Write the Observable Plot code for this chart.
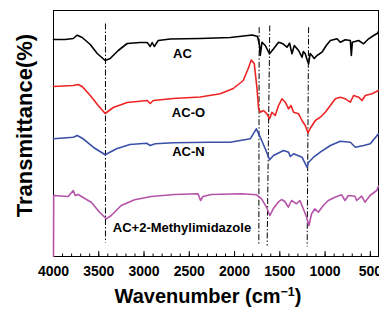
<!DOCTYPE html>
<html>
<head>
<meta charset="utf-8">
<script src="https://cdn.jsdelivr.net/npm/d3@7"></script>
<script src="https://cdn.jsdelivr.net/npm/@observablehq/plot@0.6"></script>
<style>
  html, body { margin: 0; padding: 0; background: #fff; }
  body { width: 379px; height: 309px; overflow: hidden; position: relative; font-family: "Liberation Sans", Arial, sans-serif; color: #000; }
  #xtitle { position: absolute; top: 284px; left: 208px; transform: translateX(-50%); font: bold 20px "Liberation Sans", Arial, sans-serif; white-space: nowrap; line-height: 24px; }
  #xtitle sup { font-size: 0.62em; vertical-align: 0.55em; line-height: 0; }
</style>
</head>
<body>
<div id="chart"></div>
<div id="xtitle">Wavenumber (cm<sup>−1</sup>)</div>
<script>
// ---- data (wavenumber in cm^-1, transmittance in arbitrary offset units) ----
const acWn = [4000,3871,3782,3738,3683,3594,3517,3429,3374,3285,3186,3043,2965,2932,2910,2887,2843,2710,2379,2047,1804,1746,1724,1716,1697,1661,1613,1569,1514,1465,1421,1392,1366,1340,1293,1255,1240,1219,1200,1182,1165,1145,1120,1089,1034,987,942,868,832,777,721,710,699,630,574,519,464,420,410];
const acT  = [217,217,218,221.3,219,212,203,196,198,206,213,214,214,210,214,210,216,217.5,218,219,221.5,220,211,201,214.3,211,202.7,207.7,214.3,212.7,209.3,213.3,202.7,211,206,199.3,205,202.7,197,192.7,203,201,198,201,204.3,211,216,217.7,214.3,216.7,216,201,214.3,216,212.7,217.7,221,223.3,225];

const acoWn = [4000,3782,3727,3683,3594,3506,3429,3340,3186,2965,2932,2898,2677,2379,2158,2014,1904,1849,1815,1782,1752,1735,1716,1680,1642,1613,1587,1551,1514,1476,1440,1403,1377,1348,1293,1255,1219,1189,1156,1108,1053,998,942,887,832,777,721,685,630,592,556,482,410];
const acoT  = [170,171,172,170,161,151,143,149,154,156,153,156,158,159.5,162.7,168,176,188,196.5,192.7,168,148,144.3,146,142.7,137.7,144.3,141,151,157.7,154.3,147.7,151,144.3,142.7,136,131,123.7,129.3,136,139.3,144.3,151,157.7,159.3,157.7,154.3,161,159.3,156,161,162.7,166];

const acnWn = [4000,3782,3738,3672,3561,3429,3304,3156,2972,2932,2877,2675,2268,2047,1826,1760,1716,1661,1613,1569,1459,1403,1385,1348,1255,1200,1182,1127,1053,942,832,721,666,574,501,410];
const acnT  = [117.7,119.3,121,117.7,109.3,101.7,107.7,112,113.3,111,112.7,113.7,114.3,114.3,117.7,127.7,119.3,107.7,96.7,101,106,104.3,100,102.7,99.3,89.3,94.3,99.3,104.3,111,115.3,114.3,109.3,111,112.7,122.7];

const acmWn = [4000,3998,3838,3782,3760,3727,3650,3583,3491,3417,3362,3252,3104,2920,2662,2404,2375,2349,2257,1923,1757,1702,1647,1610,1573,1518,1481,1444,1407,1370,1315,1278,1241,1204,1179,1149,1112,1075,1020,965,891,817,780,743,670,651,596,559,504,430,410];
const acmT  = [0,61,60,66,61,62,57.7,54.3,44.3,37.7,41,51,56.7,60,62,62.7,56,60,62,62.7,61.7,57.7,49.3,41,47.7,54.3,57,55,49.3,56,52.7,56,47.7,39.3,31,42.7,47.7,44.3,51,56,59.3,61.7,56,61,60.3,56,60.3,54.3,61,66,70.3];

const seriesNames  = ["AC", "AC-O", "AC-N", "AC+2-Methylimidazole"];
const seriesColors = ["#000000", "#ee2424", "#3a4fa6", "#b453a8"];
const labelWn = [2575, 2509, 2509, 2581];
const labelT  = [203, 144, 105, 29];

// peak guide lines (top / bottom wavenumber, top / bottom level)
const peakTopWn    = [3426, 1728, 1611, 1182];
const peakBottomWn = [3426, 1732, 1640, 1198];
const peakTopT     = [233, 229.3, 231, 229.3];
const peakBottomT  = [14, 11, 11, 10];

const majorTicks = [4000, 3500, 3000, 2500, 2000, 1500, 1000, 500];
const minorTicks = d3.range(500, 4001, 100);
const yLabel = "Transmittance(%)";

// ---- build tables ----
const allWn = [acWn, acoWn, acnWn, acmWn];
const allT  = [acT, acoT, acnT, acmT];
const rows = [];
allWn.forEach((wn, s) => wn.forEach((w, i) => rows.push({series: seriesNames[s], wn: w, t: allT[s][i]})));
const labels = seriesNames.map((n, i) => ({text: n, wn: labelWn[i], t: labelT[i]}));
const peaks = peakTopWn.map((w, i) => ({x1: w, x2: peakBottomWn[i], y1: peakTopT[i], y2: peakBottomT[i]}));

const chart = Plot.plot({
  width: 379,
  height: 284,
  marginLeft: 53,
  marginRight: 1,
  marginTop: 10,
  marginBottom: 28,
  style: {fontFamily: "'Liberation Sans', Arial, sans-serif", color: "#000", background: "#fff", overflow: "visible"},
  x: {domain: [4000, 410]},
  y: {domain: [0, 246], axis: null},
  color: {domain: seriesNames, range: seriesColors},
  marks: [
    Plot.frame({stroke: "#000", strokeWidth: 1}),
    Plot.axisX({ticks: minorTicks, tickSize: -2.5, tickFormat: () => "", label: null}),
    Plot.axisX({ticks: majorTicks, tickSize: -5, tickPadding: 15, tickFormat: d => String(d), label: null, fontSize: 14, fontWeight: "bold"}),
    Plot.link(peaks, {x1: "x1", x2: "x2", y1: "y1", y2: "y2", stroke: "#000", strokeWidth: 1, strokeDasharray: "6,2,1.5,2"}),
    Plot.line(rows, {x: "wn", y: "t", z: "series", stroke: "series", strokeWidth: 1.6, strokeLinejoin: "round"}),
    Plot.text(labels, {x: "wn", y: "t", text: "text", fontSize: 13, fontWeight: "bold", fill: "#000"}),
    Plot.text([yLabel], {frameAnchor: "left", textAnchor: "middle", rotate: -90, dx: -29, dy: -8, fontSize: 22, fontWeight: "bold", fill: "#000"})
  ]
});
document.getElementById("chart").appendChild(chart);
</script>
</body>
</html>
